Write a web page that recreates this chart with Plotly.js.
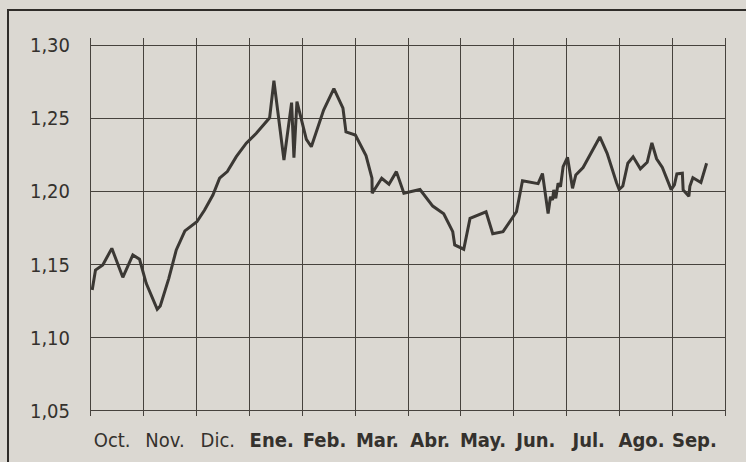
<!DOCTYPE html>
<html>
<head>
<meta charset="utf-8">
<script src="https://cdn.plot.ly/plotly-3.0.1.min.js"></script>
<style>
  html, body { margin: 0; padding: 0; background: #dbd8d2; }
  #chart { width: 746px; height: 462px; }
</style>
</head>
<body>
<div id="chart"></div>
<script>
// Month labels (placed at the middle of each month band)
const monthLabels = ['Oct.', 'Nov.', 'Dic.', '<b>Ene.</b>', '<b>Feb.</b>', '<b>Mar.</b>', '<b>Abr.</b>',
                     '<b>May.</b>', '<b>Jun.</b>', '<b>Jul.</b>', '<b>Ago.</b>', '<b>Sep.</b>'];
const monthCenters = [0.4, 1.4, 2.4, 3.42, 4.42, 5.42, 6.42, 7.42, 8.42, 9.42, 10.42, 11.42];
const yTicks = [1.05, 1.10, 1.15, 1.20, 1.25, 1.30];

// Series: position in months since start of Oct., and value
const timePos = [0.023, 0.085, 0.223, 0.394, 0.602, 0.792, 0.919, 1.045, 1.254, 1.311,
  1.473, 1.614, 1.777, 2.004, 2.150, 2.307, 2.434, 2.580, 2.750, 2.939,
  3.129, 3.381, 3.462, 3.652, 3.797, 3.841, 3.898, 4.076, 4.170, 4.403,
  4.597, 4.769, 4.826, 5.004, 5.205, 5.318, 5.322, 5.502, 5.640, 5.780,
  5.922, 6.227, 6.468, 6.676, 6.847, 6.884, 7.055, 7.174, 7.477, 7.604,
  7.799, 8.053, 8.167, 8.462, 8.545, 8.652, 8.697, 8.735, 8.759, 8.797,
  8.841, 8.886, 8.936, 9.019, 9.114, 9.176, 9.314, 9.631, 9.769, 9.871,
  9.947, 9.996, 10.066, 10.161, 10.261, 10.398, 10.527, 10.616, 10.705, 10.814,
  10.934, 10.981, 11.042, 11.089, 11.193, 11.208, 11.316, 11.335, 11.392, 11.544,
  11.652];
const rate = [1.1327, 1.1463, 1.1497, 1.1611, 1.1413, 1.1566, 1.1536, 1.1372, 1.1195, 1.1217,
  1.1406, 1.1600, 1.1730, 1.1793, 1.1873, 1.1975, 1.2090, 1.2135, 1.2237, 1.2329,
  1.2397, 1.2503, 1.2756, 1.2214, 1.2606, 1.2230, 1.2613, 1.2356, 1.2305, 1.2556,
  1.2702, 1.2568, 1.2406, 1.2385, 1.2245, 1.2090, 1.1987, 1.2090, 1.2049, 1.2135,
  1.1987, 1.2013, 1.1900, 1.1847, 1.1725, 1.1634, 1.1605, 1.1816, 1.1861, 1.1711,
  1.1725, 1.1861, 1.2073, 1.2053, 1.2122, 1.1849, 1.1964, 1.1941, 1.2010, 1.1953,
  1.2055, 1.2032, 1.2169, 1.2233, 1.2021, 1.2112, 1.2163, 1.2372, 1.2260, 1.2135,
  1.2059, 1.2013, 1.2037, 1.2192, 1.2236, 1.2154, 1.2199, 1.2331, 1.2223, 1.2163,
  1.2063, 1.2012, 1.2044, 1.2119, 1.2124, 1.2010, 1.1967, 1.2035, 1.2093, 1.2061,
  1.2192];

const paperBg = '#dbd8d2';
const gridCol = '#46423d';
const inkCol = '#34312d';
const fontFam = '"Liberation Sans Narrow", "DejaVu Sans Condensed", "Roboto", sans-serif';

const trace = {
  x: timePos,
  y: rate,
  type: 'scatter',
  mode: 'lines',
  line: { color: '#3b3834', width: 3 },
  hoverinfo: 'skip'
};

const layout = {
  width: 746,
  height: 462,
  margin: { l: 91, r: 21, t: 38, b: 46 },
  paper_bgcolor: paperBg,
  plot_bgcolor: paperBg,
  separators: ', ',
  showlegend: false,
  font: { family: fontFam, color: inkCol, size: 20 },
  xaxis: {
    range: [0, 12],
    tickmode: 'array',
    tickvals: monthCenters,
    ticktext: monthLabels,
    showgrid: false,
    zeroline: false,
    showline: false,
    ticks: '',
    ticklabelstandoff: 10,
    tickfont: { family: fontFam, size: 20, color: inkCol },
    minor: { tick0: 0, dtick: 1, showgrid: true, gridcolor: gridCol, gridwidth: 1, ticks: '' },
    fixedrange: true
  },
  yaxis: {
    range: [1.04658, 1.30478],
    tickmode: 'array',
    tickvals: yTicks,
    tickformat: '.2f',
    showgrid: true,
    gridcolor: gridCol,
    gridwidth: 1,
    zeroline: false,
    showline: true,
    mirror: true,
    linecolor: gridCol,
    linewidth: 1,
    ticks: '',
    ticklabelstandoff: 16,
    tickfont: { family: fontFam, size: 20, color: inkCol },
    fixedrange: true
  },
  shapes: [{
    type: 'rect', xref: 'paper', yref: 'paper',
    x0: -0.1309, x1: 1.2, y0: -0.3, y1: 1.074,
    line: { color: '#2f2c29', width: 2 },
    fillcolor: 'rgba(0,0,0,0)',
    layer: 'below'
  }]
};

Plotly.newPlot('chart', [trace], layout, { staticPlot: true, displayModeBar: false });
</script>
</body>
</html>
